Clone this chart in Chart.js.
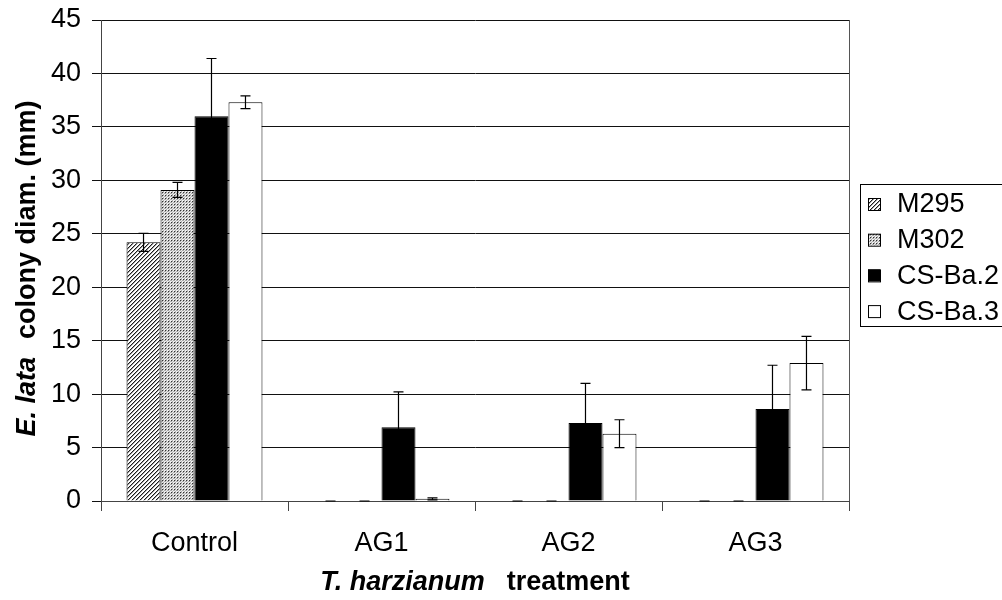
<!DOCTYPE html>
<html>
<head>
<meta charset="utf-8">
<script src="https://cdn.jsdelivr.net/npm/chart.js@4/dist/chart.umd.min.js"></script>
<style>
  html, body { margin: 0; padding: 0; background: #fff; overflow: hidden; }
  #wrap { width: 1002px; height: 600px; }
</style>
</head>
<body>
<div id="wrap"><canvas id="chart" width="1002" height="600"></canvas></div>
<script>
// categories / series
const CATEGORIES = ['Control', 'AG1', 'AG2', 'AG3'];
const SERIES = ['M295', 'M302', 'CS-Ba.2', 'CS-Ba.3'];

// colony diameter (mm)
const M295 = [24.2, 0, 0, 0];
const M302 = [29.1, 0, 0, 0];
const CSBA2 = [36.0, 6.9, 7.3, 8.6];
const CSBA3 = [37.3, 0.2, 6.3, 12.9];

// error (+/-)
const ERR_M295 = [0.85, 0, 0, 0];
const ERR_M302 = [0.7, 0, 0, 0];
const ERR_CSBA2 = [5.4, 3.3, 3.7, 4.1];
const ERR_CSBA3 = [0.6, 0.1, 1.3, 2.5];

const Y_MIN = 0, Y_MAX = 45, Y_STEP = 5;

const FONT = 'Liberation Sans, Arial, sans-serif';
const canvas = document.getElementById('chart');
const ctx = canvas.getContext('2d');

// fill patterns like the old excel ones
function makePattern(kind) {
    const c = document.createElement('canvas');
    const p = c.getContext('2d');
    if (kind === 'hatch') {
        c.width = c.height = 4;
        p.fillStyle = '#fff';
        p.fillRect(0, 0, 4, 4);
        p.fillStyle = '#a0a0a0';
        for (let i = 0; i < 4; i++) p.fillRect((i + 1) % 4, 3 - i, 1, 1);
        p.fillStyle = '#1a1a1a';
        for (let i = 0; i < 4; i++) p.fillRect(i, 3 - i, 1, 1);
    } else {
        c.width = c.height = 3;
        const px = [
            ['#333', '#aaa', '#eee'],
            ['#aaa', '#eee', '#aaa'],
            ['#eee', '#aaa', '#eee']
        ];
        px.forEach((row, r) => row.forEach((col, k) => {
            p.fillStyle = col;
            p.fillRect(k, r, 1, 1);
        }));
    }
    return ctx.createPattern(c, 'repeat');
}

const errorBars = {
    id: 'errorBars',
    afterDatasetsDraw(chart) {
        const c = chart.ctx;
        const y = chart.scales.y;
        c.save();
        c.strokeStyle = '#000';
        c.lineWidth = 1.2;
        chart.data.datasets.forEach((ds, i) => {
            const meta = chart.getDatasetMeta(i);
            meta.data.forEach((bar, j) => {
                const v = ds.data[j], e = ds.errors[j];
                const x = bar.x;
                const top = y.getPixelForValue(v + e);
                const bot = y.getPixelForValue(Math.max(0, v - e));
                c.beginPath();
                c.moveTo(x, top); c.lineTo(x, bot);
                c.moveTo(x - 5, top); c.lineTo(x + 5, top);
                c.moveTo(x - 5, bot); c.lineTo(x + 5, bot);
                c.stroke();
            });
        });
        c.restore();
    }
};

// mixed italic / normal bold text, gap in px between parts
function drawParts(c, parts, gap, cx, cy) {
    let total = gap * (parts.length - 1);
    parts.forEach(p => {
        c.font = p.font;
        p.w = c.measureText(p.t).width;
        total += p.w;
    });
    let x = cx - total / 2;
    parts.forEach(p => {
        c.font = p.font;
        c.fillText(p.t, x, cy);
        x += p.w + gap;
    });
}

const decorations = {
    id: 'decorations',
    afterDraw(chart) {
        const c = chart.ctx;
        const a = chart.chartArea;
        c.save();
        // right edge of plot
        c.strokeStyle = '#555';
        c.lineWidth = 1;
        c.beginPath();
        c.moveTo(Math.round(a.right) + 0.5, a.top);
        c.lineTo(Math.round(a.right) + 0.5, a.bottom);
        c.stroke();

        c.fillStyle = '#000';
        c.textBaseline = 'middle';
        c.textAlign = 'left';
        // axis titles
        const bi = 'italic bold 27px ' + FONT;
        const b = 'bold 27px ' + FONT;
        drawParts(c, [{ t: 'T. harzianum', font: bi }, { t: 'treatment', font: b }], 22,
            (a.left + a.right) / 2, 583);
        c.save();
        c.translate(28, (a.top + a.bottom) / 2 + 8);
        c.rotate(-Math.PI / 2);
        drawParts(c, [{ t: 'E. lata', font: bi }, { t: 'colony diam. (mm)', font: b }], 18, 0, 0);
        c.restore();

        // legend
        c.strokeStyle = '#000';
        c.strokeRect(860.5, 184.5, 200, 142);
        c.font = '27px ' + FONT;
        chart.data.datasets.forEach((ds, i) => {
            const yc = 204 + i * 35.7;
            c.fillStyle = ds.backgroundColor;
            c.fillRect(868, yc - 6, 12, 12);
            c.strokeStyle = '#000';
            c.strokeRect(868.5, yc - 5.5, 12, 12);
            c.fillStyle = '#000';
            c.fillText(ds.label, 897, yc + 1);
        });
        c.restore();
    }
};

const hatch = makePattern('hatch');
const dots = makePattern('dots');

new Chart(ctx, {
    type: 'bar',
    data: {
        labels: CATEGORIES,
        datasets: [
            { label: SERIES[0], data: M295, errors: ERR_M295, backgroundColor: hatch },
            { label: SERIES[1], data: M302, errors: ERR_M302, backgroundColor: dots },
            { label: SERIES[2], data: CSBA2, errors: ERR_CSBA2, backgroundColor: '#000' },
            { label: SERIES[3], data: CSBA3, errors: ERR_CSBA3, backgroundColor: '#fff' }
        ].map(d => Object.assign(d, { borderColor: '#000', borderWidth: 1 }))
    },
    options: {
        responsive: false,
        animation: false,
        devicePixelRatio: 1,
        categoryPercentage: 0.727,
        barPercentage: 1.0,
        layout: { padding: { top: 20, right: 153, left: 0, bottom: 0 } },
        plugins: {
            legend: { display: false },
            tooltip: { enabled: false }
        },
        scales: {
            x: {
                grid: { drawOnChartArea: false, drawTicks: true, tickLength: 10, color: '#444', offset: true },
                border: { color: '#444', width: 1 },
                ticks: { color: '#000', font: { family: FONT, size: 27 }, padding: 16 },
                afterFit(s) { s.height = 99; s.paddingLeft = 0; s.paddingRight = 0; }
            },
            y: {
                min: Y_MIN,
                max: Y_MAX,
                ticks: { stepSize: Y_STEP, color: '#000', font: { family: FONT, size: 27 }, padding: 11 },
                grid: { color: '#111', tickLength: 9 },
                border: { color: '#444', width: 1 },
                afterFit(s) { s.width = 101; s.paddingTop = 0; s.paddingBottom = 0; }
            }
        }
    },
    plugins: [errorBars, decorations]
});
</script>
</body>
</html>
